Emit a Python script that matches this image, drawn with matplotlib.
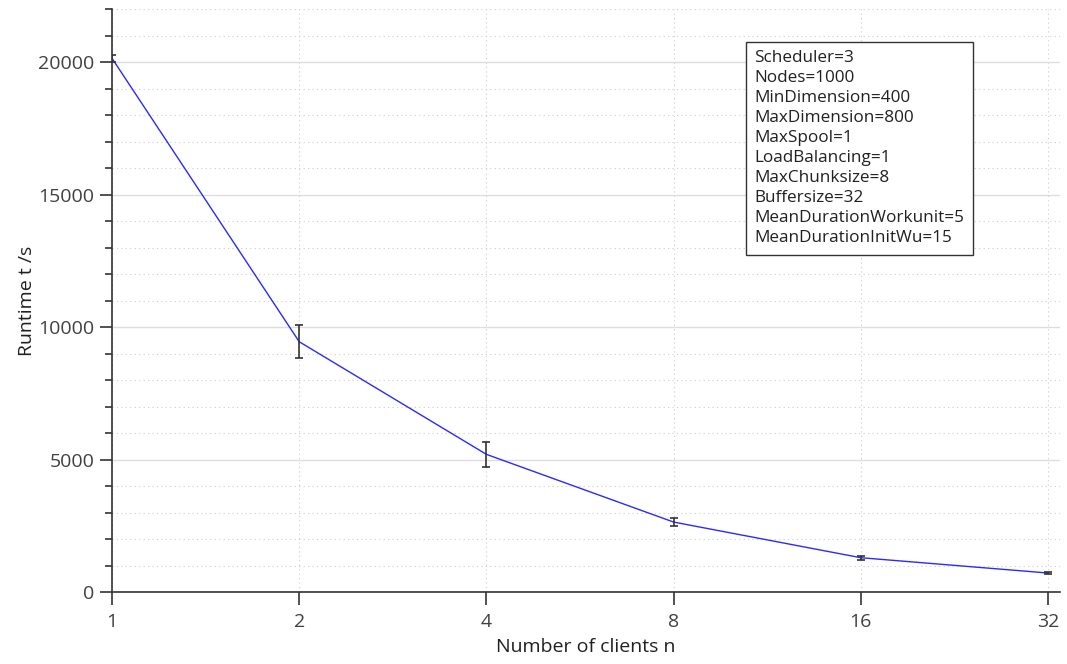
import matplotlib
matplotlib.use("Agg")
import matplotlib.pyplot as plt
from matplotlib.ticker import MultipleLocator, FixedLocator, FixedFormatter

plt.rcParams['font.family'] = ['Open Sans', 'DejaVu Sans']

clients = [1, 2, 4, 8, 16, 32]
runtime = [20140, 9445, 5195, 2640, 1295, 717]
err = [130, 615, 465, 140, 70, 30]
tick_labels = ['1', '2', '4', '8', '16', '32']
params = ['Scheduler=3', 'Nodes=1000', 'MinDimension=400', 'MaxDimension=800',
          'MaxSpool=1', 'LoadBalancing=1', 'MaxChunksize=8', 'Buffersize=32',
          'MeanDurationWorkunit=5', 'MeanDurationInitWu=15']

fig = plt.figure(figsize=(10.67, 6.64), dpi=100)
ax = fig.add_axes([0.105, 0.1084, 0.888, 0.878])

ax.plot(clients, runtime, color='#2a2aff', lw=1, zorder=3)
ax.errorbar(clients, runtime, yerr=err, fmt='none', ecolor='#333333',
            elinewidth=1.2, capsize=3, capthick=1.2, zorder=4)

ax.set_xscale('log', base=2)
ax.set_xlim(1, 33.4)
ax.set_ylim(0, 22000)
ax.xaxis.set_major_locator(FixedLocator(clients))
ax.xaxis.set_major_formatter(FixedFormatter(tick_labels))
ax.xaxis.set_minor_locator(FixedLocator([]))
ax.yaxis.set_major_locator(MultipleLocator(5000))
ax.yaxis.set_minor_locator(MultipleLocator(1000))

ax.grid(which='major', axis='y', color='#dddddd', lw=1, ls='-')
ax.grid(which='minor', axis='y', color='#cccccc', lw=0.8, ls=(0, (1, 3)))
ax.grid(which='major', axis='x', color='#cccccc', lw=0.8, ls=(0, (1, 3)))
ax.set_axisbelow(True)

for s in ['top', 'right']:
    ax.spines[s].set_visible(False)
for s in ['left', 'bottom']:
    ax.spines[s].set_color('#333333')
    ax.spines[s].set_linewidth(1.2)

ax.tick_params(which='major', length=9, width=1.2, color='#333333',
               labelsize=14, labelcolor='#404040')
ax.tick_params(which='minor', length=5, width=1.2, color='#333333')
ax.tick_params(axis='x', pad=6)

ax.set_xlabel('Number of clients n', fontsize=14, color='#202020', labelpad=5)
ax.set_ylabel('Runtime t /s', fontsize=14, color='#202020', labelpad=2)

ax.text(0.678, 0.929, '\n'.join(params), transform=ax.transAxes,
        fontsize=12.3, va='top', ha='left', linespacing=1.33, color='#202020',
        bbox=dict(boxstyle='square,pad=0.5', fc='white', ec='#333333', lw=1),
        zorder=5)

fig.savefig('out.png', dpi=100)
